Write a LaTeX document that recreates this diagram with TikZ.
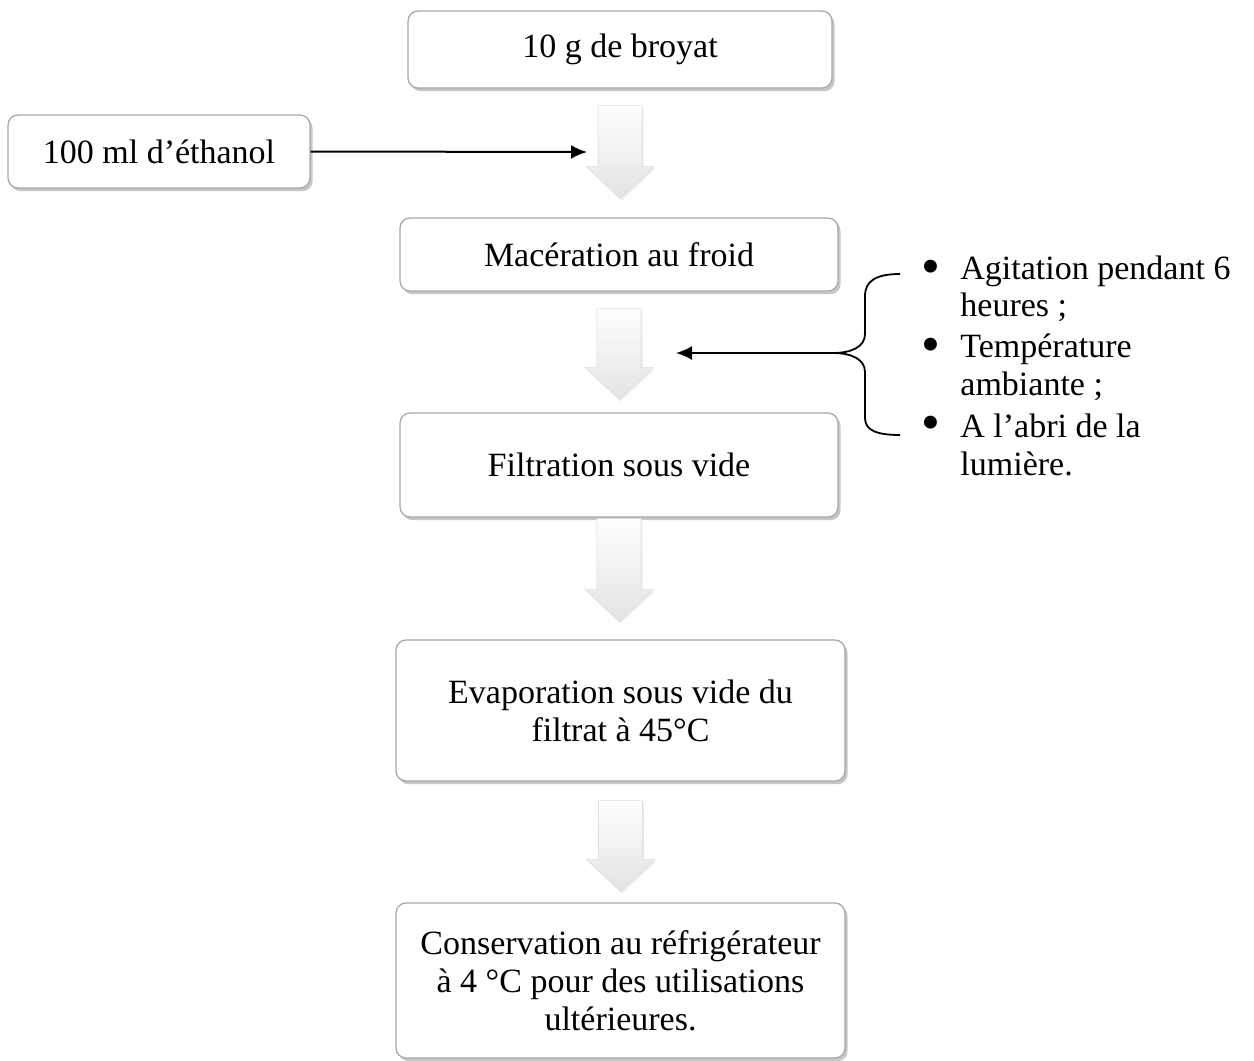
\documentclass[tikz,border=0pt]{standalone}
\usepackage{fontspec}
\setmainfont{Liberation Serif}
\usetikzlibrary{shadows,calc,arrows.meta}

\tikzset{
  stepbox/.style={draw=gray!70, line width=0.6pt, rounded corners=5pt, fill=white,
                  align=center, font=\fontsize{17}{19}\selectfont,
                  drop shadow={shadow xshift=1.3pt, shadow yshift=-1.6pt, opacity=0.45, fill=gray}},
  bigarrow/.style={top color=white, bottom color=gray!22, draw=gray!25, line width=0.3pt,
                   drop shadow={shadow xshift=0.8pt, shadow yshift=-1pt, opacity=0.15, fill=gray}},
  thinarrow/.style={-{Latex[length=8pt,width=7pt]}, line width=1pt},
  note/.style={inner sep=0pt, align=left, font=\fontsize{17}{18.8}\selectfont},
  dot/.style={inner sep=0pt, font=\fontsize{27}{27}\selectfont}
}

% grey block arrow between two boxes: from, to, top gap, tip gap
\newcommand{\flowarrow}[4]{%
  \path[bigarrow] let \p1=($(#1.south)+(0,-#3pt)$), \p2=($(#2.north)+(0,#4pt)$) in
    (\x1-11pt,\y1) -- (\x1+11pt,\y1) -- (\x1+11pt,\y2+16pt) -- (\x1+17pt,\y2+16pt)
    -- (\x1,\y2) -- (\x1-17pt,\y2+16pt) -- (\x1-11pt,\y2+16pt) -- cycle;}

\begin{document}
\begin{tikzpicture}[x=0.5pt, y=-0.5pt]
\useasboundingbox (0,0) rectangle (1254,1061);

\node [stepbox, minimum width=212pt, minimum height=38.5pt] at (620,49.5) (broyat) {10 g de broyat};
\node [stepbox, minimum width=151pt, minimum height=36.5pt] at (159,151.5) (ethanol) {100 ml d’éthanol};
\node [stepbox, minimum width=219pt, minimum height=36.5pt] at (619,254.5) (maceration) {Macération au froid};
\node [stepbox, minimum width=219pt, minimum height=52pt] at (619,465) (filtration) {Filtration sous vide};
\node [stepbox, minimum width=224.5pt, minimum height=70.5pt] at (620.5,710.5) (evaporation) {Evaporation sous vide du\\filtrat à 45°C};
\node [stepbox, minimum width=224.5pt, minimum height=77.5pt] at (620.5,980.5) (conservation) {Conservation au réfrigérateur\\à 4 °C pour des utilisations\\ultérieures.};
%
\flowarrow{broyat}{maceration}{8.5}{9.5}
\flowarrow{maceration}{filtration}{8.5}{6.5}
\flowarrow{filtration}{evaporation}{0.5}{9}
\flowarrow{evaporation}{conservation}{9.5}{5.5}
%
\coordinate (ethend) at (587,152);
\draw [thinarrow] (ethanol.east) -- (ethend);
%
\coordinate (bracetop) at (900,274);
\coordinate (bracetip) at (833,353);
\coordinate (bracebot) at (900,435);
\coordinate (stirend) at (676,353);
\draw [line width=0.9pt] (bracetop) .. controls (876,274) and (865,281) .. (865,296) -- (865,334)
      .. controls (865,347) and (851,353) .. (bracetip)
      .. controls (851,353) and (865,359) .. (865,372) -- (865,418)
      .. controls (865,430) and (876,435) .. (bracebot);
\draw [thinarrow] (bracetip) -- (stirend);
%
\node [dot] at (931,272) (b1) {\textbullet};
\node [dot] at (931,350) (b2) {\textbullet};
\node [dot] at (931,428) (b3) {\textbullet};
\node [note, anchor=west] at (960,289) (agitation) {Agitation pendant 6\\heures ;};
\node [note, anchor=west] at (960,367.5) (temperature) {Température\\ambiante ;};
\node [note, anchor=west] at (960,445) (abri) {A l’abri de la\\lumière.};
\end{tikzpicture}
\end{document}
